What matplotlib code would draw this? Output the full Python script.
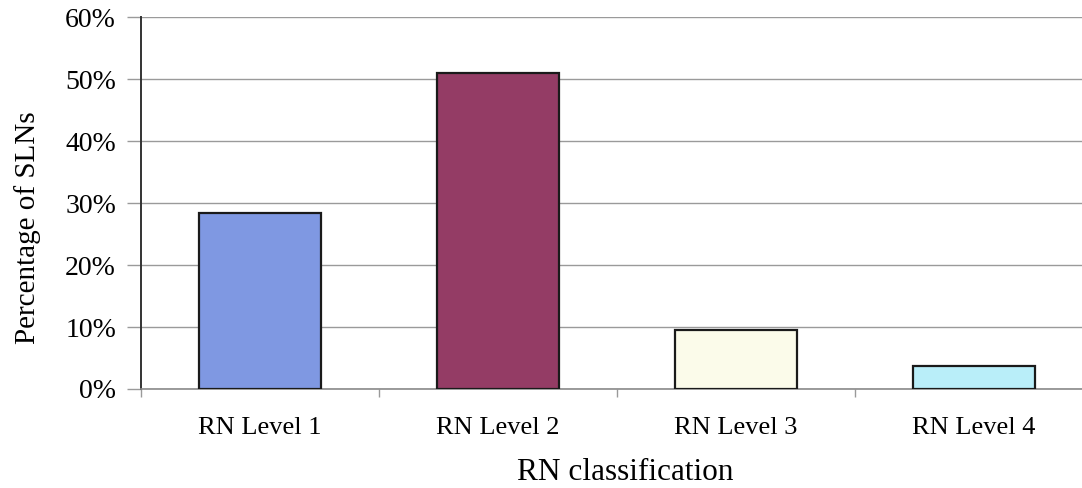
import matplotlib
matplotlib.use("Agg")
import matplotlib.pyplot as plt
from matplotlib.ticker import FixedLocator, PercentFormatter

categories = ["RN Level 1", "RN Level 2", "RN Level 3", "RN Level 4"]
percentages = [28.4, 51.0, 9.5, 3.7]
bar_colors = ["#7f98e2", "#943c65", "#fbfbea", "#b9eef9"]
y_ticks = [0, 10, 20, 30, 40, 50, 60]

plt.rcParams["font.family"] = ["Liberation Serif", "DejaVu Serif"]

W, H = 1082, 488
fig = plt.figure(figsize=(W / 100, H / 100), dpi=100)
ax = fig.add_axes([0.1303, 0.2029, 0.8799, 0.7621])

x = range(len(categories))
ax.bar(x, percentages, width=0.51, color=bar_colors, edgecolor="#1a1a1a",
       linewidth=1.6, zorder=3)

ax.set_xlim(-0.5, len(categories) - 0.5)
ax.set_ylim(0, 60)
ax.set_yticks(y_ticks)
ax.yaxis.set_major_formatter(PercentFormatter(decimals=0))
ax.grid(axis="y", color="#9a9a9a", linewidth=1.0, zorder=0)

ax.set_xticks(list(x))
ax.set_xticklabels(categories, fontsize=19)
ax.xaxis.set_minor_locator(FixedLocator([i + 0.5 for i in range(-1, len(categories))]))
ax.tick_params(axis="x", which="major", length=0, pad=20)
ax.tick_params(axis="x", which="minor", length=6, color="#9a9a9a", width=1)
ax.tick_params(axis="y", length=10, color="#9a9a9a", width=1, labelsize=20, pad=8)

for side in ("top", "right"):
    ax.spines[side].set_visible(False)
ax.spines["left"].set_color("#333333")
ax.spines["left"].set_linewidth(1.4)
ax.spines["bottom"].set_color("#8a8a8a")
ax.spines["bottom"].set_linewidth(1.2)

# Axis titles placed in figure pixels
fig.text(28 / W, 1 - 228 / H, "Percentage of SLNs", rotation=90,
         ha="center", va="center", fontsize=21)
fig.text(625 / W, 1 - 480 / H, "RN classification",
         ha="center", va="baseline", fontsize=22.5)

fig.savefig("out.png", dpi=100)
